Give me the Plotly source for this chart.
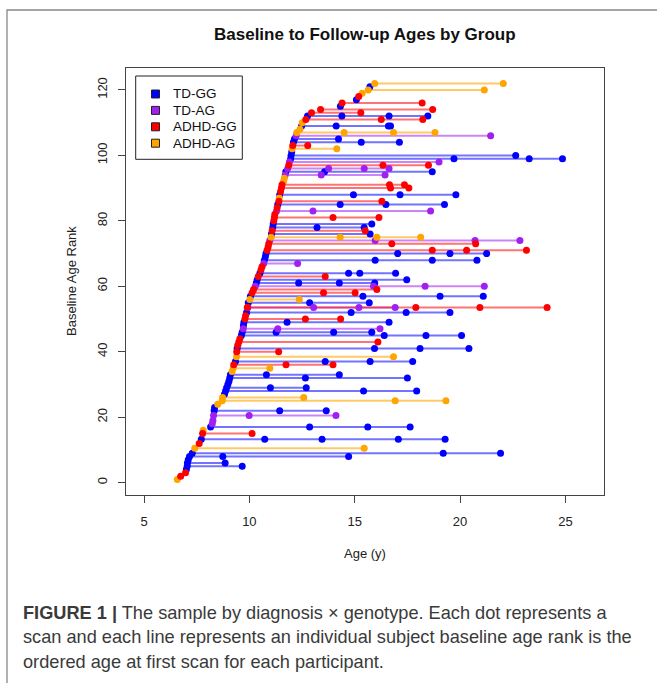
import plotly.graph_objects as go

# ---------------- data ----------------
group_names = ["TD-GG", "TD-AG", "ADHD-GG", "ADHD-AG"]
group_colors = ["#0000FF", "#A020F0", "#FF0000", "#FFA500"]
line_colors = ["rgba(0,0,255,0.55)", "rgba(160,32,240,0.55)",
               "rgba(255,0,0,0.55)", "rgba(255,165,0,0.6)"]

x_ticks = [5, 10, 15, 20, 25]
y_ticks = [0, 20, 40, 60, 80, 100, 120]

subj_rank = [1, 2, 3, 4, 5, 6, 7, 8, 9, 10.5,
             12, 13.3, 15, 16, 17, 18, 19, 20.5, 22, 23,
             24, 25, 26, 27, 28, 29, 30, 31, 32, 33,
             34, 35, 36, 37, 38.5, 40, 41, 42, 43, 44,
             45, 46, 47, 48, 49, 50, 51, 52, 53.5, 53.5,
             55, 56, 57, 58, 59, 60, 61, 62, 63, 64,
             65, 66, 67, 68, 69, 70, 71, 72, 73, 74,
             75, 76, 77, 78, 79, 80, 81, 82, 83, 84,
             85, 86, 87, 88, 89, 90, 91, 92, 93, 94,
             95, 96, 97, 98, 99, 100, 101, 102, 103, 104,
             105, 106, 107, 108, 109, 110, 111, 112, 113, 114,
             115, 116, 117, 118, 119, 120, 121, 122]

subj_group = ["ADHD-AG", "ADHD-GG", "ADHD-GG", "TD-GG", "TD-GG", "TD-GG", "TD-GG", "TD-GG", "TD-GG", "ADHD-AG",
              "ADHD-GG", "TD-GG", "ADHD-GG", "ADHD-AG", "TD-GG", "TD-AG", "TD-AG", "TD-AG", "TD-GG", "TD-GG",
              "ADHD-AG", "ADHD-AG", "ADHD-AG", "TD-GG", "TD-GG", "TD-GG", "TD-GG", "TD-GG", "TD-GG", "TD-GG",
              "ADHD-AG", "ADHD-AG", "ADHD-GG", "TD-GG", "ADHD-AG", "ADHD-GG", "TD-GG", "ADHD-GG", "ADHD-GG", "ADHD-GG",
              "TD-GG", "TD-GG", "TD-AG", "TD-GG", "TD-GG", "ADHD-GG", "ADHD-GG", "TD-GG", "TD-AG", "ADHD-GG",
              "TD-GG", "ADHD-AG", "TD-GG", "ADHD-GG", "ADHD-GG", "TD-AG", "TD-GG", "TD-GG", "ADHD-GG", "TD-GG",
              "ADHD-GG", "ADHD-GG", "TD-AG", "TD-GG", "TD-GG", "TD-GG", "ADHD-GG", "ADHD-GG", "ADHD-GG", "TD-AG",
              "ADHD-AG", "TD-GG", "ADHD-GG", "TD-GG", "TD-GG", "ADHD-GG", "ADHD-GG", "ADHD-GG", "TD-AG", "ADHD-GG",
              "TD-GG", "ADHD-GG", "ADHD-AG", "TD-GG", "ADHD-GG", "ADHD-GG", "ADHD-GG", "ADHD-AG", "ADHD-AG", "TD-AG",
              "TD-GG", "TD-AG", "ADHD-GG", "TD-AG", "TD-GG", "TD-GG", "TD-GG", "ADHD-AG", "ADHD-GG", "TD-GG",
              "TD-GG", "TD-AG", "ADHD-AG", "ADHD-AG", "TD-GG", "ADHD-AG", "ADHD-GG", "TD-GG", "ADHD-GG", "ADHD-GG",
              "TD-GG", "ADHD-GG", "TD-GG", "ADHD-GG", "ADHD-AG", "ADHD-AG", "TD-GG", "ADHD-AG"]

subj_ages = [
    [6.58], [6.74], [6.97], [7.01], [7.05, 9.66], [7.06, 8.85], [7.10],
    [7.16, 8.74, 14.71], [7.29, 19.20, 21.92], [7.41, 15.45],
    [7.62], [7.72, 10.73, 13.45, 17.07, 19.29], [7.78, 10.13], [7.81],
    [8.16, 12.86, 15.62, 17.63], [8.24], [8.27], [8.30, 9.99, 14.11],
    [8.33, 11.44, 13.65], [8.35],
    [8.50], [8.71, 16.92, 19.33], [8.73, 12.58], [8.82], [8.87, 15.42, 17.94],
    [8.92, 11.00, 12.70], [8.98], [9.03], [9.07, 12.66, 17.50], [9.10, 10.81, 14.27],
    [9.18], [9.23, 10.97], [9.26, 11.74, 13.97], [9.34, 13.60, 15.73, 17.75],
    [9.39, 16.84], [9.40, 11.39], [9.42, 15.94, 18.10, 20.42], [9.45],
    [9.50, 16.10], [9.55],
    [9.62, 16.40, 18.38, 20.07], [9.66, 11.27, 14.00, 15.81], [9.71, 11.35, 16.20],
    [9.72], [9.74, 11.79, 16.63], [9.79, 12.66, 14.33], [9.82],
    [9.87, 14.83, 17.44, 19.52], [9.93, 13.05, 15.20, 16.92], [9.90, 17.90, 20.94, 24.13],
    [9.95, 12.86, 15.69], [10.02, 12.37], [10.05, 15.39, 19.05, 21.10],
    [10.13, 13.52, 15.02], [10.20, 16.05], [10.28, 15.89, 18.34, 21.15],
    [10.33, 12.34, 14.27, 15.95], [10.37, 17.47], [10.42, 13.60],
    [10.50, 14.71, 15.24, 16.94],
    [10.55], [10.60], [10.68, 12.29], [10.71, 15.97, 18.68, 20.80], [10.76],
    [10.79, 17.04, 19.52, 21.26], [10.84, 18.68, 20.31, 23.15], [10.89],
    [10.92, 16.76, 20.74], [10.97, 15.97, 20.71, 22.84],
    [11.03, 14.31, 16.05, 18.13], [11.05, 15.73], [11.08, 15.50],
    [11.11, 13.21, 15.45], [11.13, 15.81], [11.16], [11.19, 13.97, 16.15],
    [11.21], [11.29, 13.02, 18.60], [11.32],
    [11.35, 14.31, 16.48, 19.26], [11.40, 16.29], [11.42],
    [11.44, 14.94, 17.15, 19.80], [11.48], [11.52, 16.70, 17.57],
    [11.55, 16.65, 17.36], [11.62], [11.66], [11.70, 13.41, 16.44],
    [11.73, 13.57, 18.68], [11.82, 13.76, 15.45, 16.63], [11.87, 16.34, 18.50],
    [11.90, 19.00], [11.96, 19.71, 23.28, 24.86], [11.98, 22.64], [12.01],
    [12.03, 14.15], [12.06, 12.77], [12.09, 15.31, 17.12],
    [12.14, 14.23], [12.22, 21.45], [12.25, 14.50, 16.84, 18.81], [12.40],
    [12.48, 14.12, 16.60, 16.70], [12.51], [12.68, 16.26, 18.23],
    [12.76, 14.39, 16.63, 18.47], [12.95, 15.29], [13.38, 18.70],
    [14.32], [14.40, 18.20], [15.08], [15.19], [15.35], [15.64, 21.15],
    [15.72], [15.95, 22.05],
]

# ---------------- layout geometry (pixels) ----------------
W, H = 657, 683
L, R, T, B = 126, 53, 68, 188
PW, PH = W - L - R, H - T - B


def px(xp):
    return (xp - L) / PW


def py(yp):
    return (H - B - yp) / PH


fig = go.Figure()

# lines first (one trace per group)
line_order = ["TD-GG", "TD-AG", "ADHD-AG", "ADHD-GG"]
for g in line_order:
    gi = group_names.index(g)
    xs, ys = [], []
    for r, grp, ages in zip(subj_rank, subj_group, subj_ages):
        if grp == g and len(ages) > 1:
            xs += [min(ages), max(ages), None]
            ys += [r, r, None]
    fig.add_trace(go.Scatter(x=xs, y=ys, mode="lines",
                             line=dict(color=line_colors[gi], width=2),
                             hoverinfo="skip", showlegend=False))

# points
for g in line_order:
    gi = group_names.index(g)
    xs, ys = [], []
    for r, grp, ages in zip(subj_rank, subj_group, subj_ages):
        if grp == g:
            xs += ages
            ys += [r] * len(ages)
    fig.add_trace(go.Scatter(x=xs, y=ys, mode="markers", name=g,
                             marker=dict(color=group_colors[gi], size=7,
                                         line=dict(width=0)),
                             showlegend=False))

axis_common = dict(showgrid=False, zeroline=False, showline=True, mirror=True,
                   linecolor="#444444", linewidth=1, ticks="outside", ticklen=7,
                   tickcolor="#444444",
                   tickfont=dict(family="Liberation Sans, Arial", size=13, color="#222222"))

fig.update_xaxes(range=[4.146, 26.83], tickvals=x_ticks,
                 ticktext=[str(v) for v in x_ticks], ticklabelstandoff=7, **axis_common)
fig.update_yaxes(range=[-3.76, 126.7], tickvals=y_ticks,
                 ticktext=[str(v) for v in y_ticks], tickangle=-90,
                 ticklabelstandoff=6, **axis_common)

shapes = []
# outer panel border
shapes.append(dict(type="rect", xref="paper", yref="paper",
                   x0=px(7), x1=px(720), y0=py(720), y1=py(10),
                   line=dict(color="#888888", width=1.3), fillcolor="rgba(0,0,0,0)",
                   layer="below"))
# legend box
shapes.append(dict(type="rect", xref="paper", yref="paper",
                   x0=px(135.7), x1=px(242.3), y0=py(159.3), y1=py(76),
                   line=dict(color="#222222", width=1), fillcolor="white"))
annotations = []
leg_y = [94, 110.4, 126.8, 143.2]
for i, g in enumerate(group_names):
    cy = leg_y[i]
    shapes.append(dict(type="rect", xref="paper", yref="paper",
                       x0=px(151.5), x1=px(159.5), y0=py(cy + 4), y1=py(cy - 4),
                       line=dict(color="#222222", width=1), fillcolor=group_colors[i]))
    annotations.append(dict(xref="paper", yref="paper", x=px(170.5), y=py(cy),
                            xanchor="left", yanchor="middle", showarrow=False,
                            text=g, font=dict(family="Liberation Sans, Arial",
                                              size=13.5, color="#111111")))

# title and axis titles
annotations.append(dict(xref="paper", yref="paper", x=px(365), y=py(35),
                        xanchor="center", yanchor="middle", showarrow=False,
                        text="<b>Baseline to Follow-up Ages by Group</b>",
                        font=dict(family="Liberation Sans, Arial", size=17, color="#111111")))
annotations.append(dict(xref="paper", yref="paper", x=px(365), y=py(553),
                        xanchor="center", yanchor="middle", showarrow=False,
                        text="Age (y)",
                        font=dict(family="Liberation Sans, Arial", size=13, color="#222222")))
annotations.append(dict(xref="paper", yref="paper", x=px(71), y=py(281),
                        xanchor="center", yanchor="middle", showarrow=False,
                        text="Baseline Age Rank", textangle=-90,
                        font=dict(family="Liberation Sans, Arial", size=13, color="#222222")))

# caption
cap_lines = ["<b>FIGURE 1 |</b> The sample by diagnosis \u00d7 genotype. Each dot represents a",
             "scan and each line represents an individual subject baseline age rank is the",
             "ordered age at first scan for each participant."]
cap_y = [612.5, 637, 661.5]
for t, cy in zip(cap_lines, cap_y):
    annotations.append(dict(xref="paper", yref="paper", x=px(21), y=py(cy),
                            xanchor="left", yanchor="middle", showarrow=False,
                            text=t, font=dict(family="Liberation Sans, Arial",
                                              size=18.2, color="#3a3a3a")))

fig.update_layout(width=W, height=H, margin=dict(l=L, r=R, t=T, b=B, pad=0),
                  plot_bgcolor="white", paper_bgcolor="white",
                  shapes=shapes, annotations=annotations, showlegend=False)

fig.write_html("out.html", config={"displayModeBar": False},
               post_script="document.body.style.margin='0';document.body.style.overflow='hidden';")
